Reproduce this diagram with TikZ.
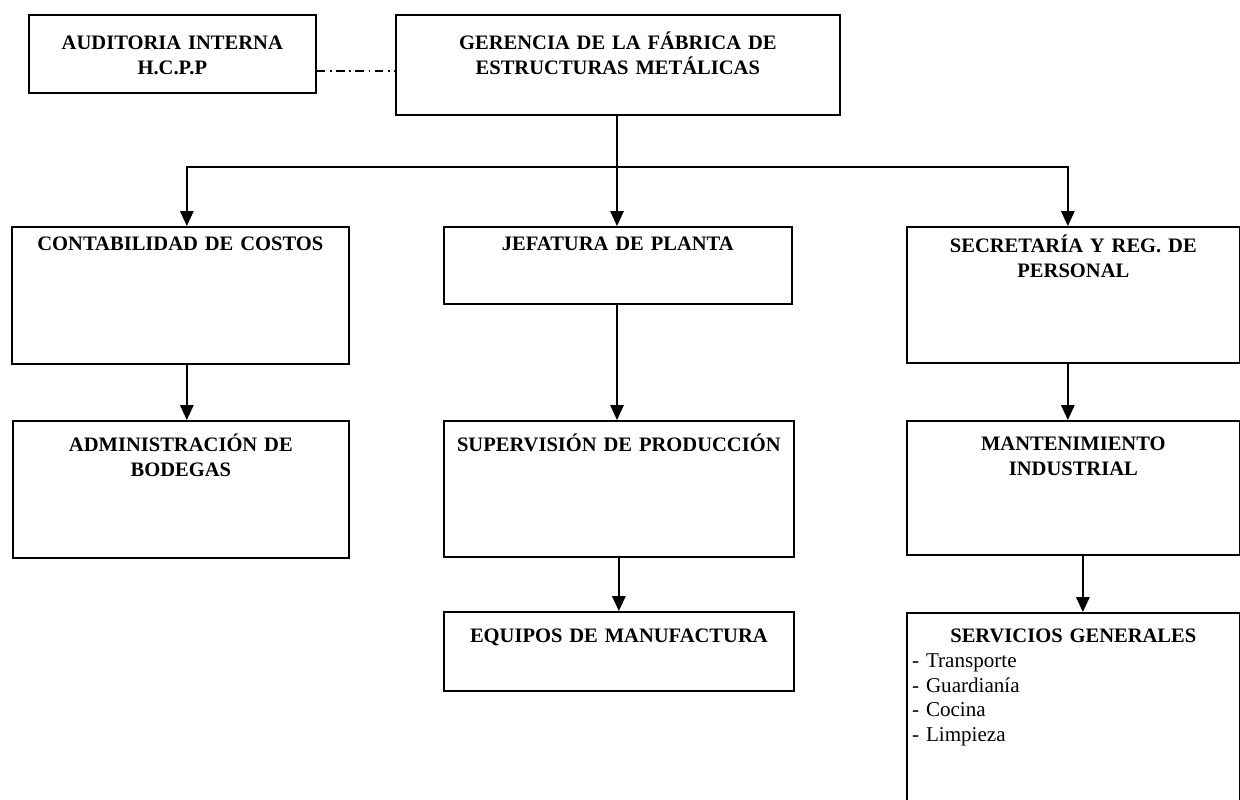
\documentclass[tikz,border=0pt]{standalone}
\usepackage{fontspec}
\setmainfont{Liberation Serif}
\usetikzlibrary{arrows.meta}

\tikzset{
	unit/.style={draw, line width=1pt, inner sep=0pt, anchor=north west, align=center, font=\bfseries\fontsize{11.7}{14}\selectfont},
	link/.style={line width=0.8pt},
	arrow/.style={line width=0.8pt, -{Triangle[length=0.3cm,width=0.27cm]}},
	dashdot/.style={line width=0.8pt, dash pattern=on 5pt off 2.5pt on 1pt off 2.5pt}
}

\begin{document}
\begin{tikzpicture}[x=0.02cm,y=-0.02cm]
\useasboundingbox (0,0) rectangle (1240,799);

\node (aud) at (28,14) [unit,text width=5.74cm,text height=0.70cm,text depth=0.86cm] {AUDITORIA INTERNA\\H.C.P.P};
\node (ger) at (395,14) [unit,text width=8.88cm,text height=0.70cm,text depth=1.30cm] {GERENCIA DE LA FÁBRICA DE\\ESTRUCTURAS METÁLICAS};

\node (cont) at (11,226) [unit,text width=6.74cm,text height=0.48cm,text depth=2.26cm] {CONTABILIDAD DE COSTOS};
\node (jef) at (443,226) [unit,text width=6.96cm,text height=0.48cm,text depth=1.06cm] {JEFATURA DE PLANTA};
\node (sec) at (906,226) [unit,text width=6.66cm,text height=0.52cm,text depth=2.20cm] {SECRETARÍA Y REG. DE\\PERSONAL};

\node (adm) at (12,420) [unit,text width=6.72cm,text height=0.62cm,text depth=2.12cm] {ADMINISTRACIÓN DE\\BODEGAS};
\node (sup) at (443,420) [unit,text width=7.00cm,text height=0.62cm,text depth=2.10cm] {SUPERVISIÓN DE PRODUCCIÓN};
\node (man) at (906,420) [unit,text width=6.66cm,text height=0.60cm,text depth=2.08cm] {MANTENIMIENTO\\INDUSTRIAL};

\node (equ) at (443,611) [unit,text width=7.00cm,text height=0.62cm,text depth=0.96cm] {EQUIPOS DE MANUFACTURA};
\node (ser) at (906,612) [unit,align=left,text width=6.66cm,text height=0.60cm,text depth=3.40cm] {\makebox[6.66cm]{SERVICIOS GENERALES}\\
	\mdseries\fontsize{12}{14}\selectfont\hspace*{3pt}- Transporte\\\hspace*{3pt}- Guardianía\\\hspace*{3pt}- Cocina\\\hspace*{3pt}- Limpieza};

% staff link
\draw [dashdot] ([yshift=-0.34cm]aud.east) -- ([yshift=-0.34cm]aud.east -| ger.west);

% first level
\coordinate (bus) at (617,167);
\draw [link] (ger.south -| bus) -- (bus);
\draw [arrow] (bus) -| ([xshift=0.13cm]cont.north);
\draw [arrow] (bus) -- (bus |- jef.north);
\draw [arrow] (bus) -| ([xshift=-0.11cm]sec.north);

% second and third level
\draw [arrow] ([xshift=0.13cm]cont.south) -- ([xshift=0.13cm]cont.south |- adm.north);
\draw [arrow] (jef.south -| bus) -- (bus |- sup.north);
\draw [arrow] (sup.south) -- (sup.south |- equ.north);
\draw [arrow] ([xshift=-0.11cm]sec.south) -- ([xshift=-0.11cm]sec.south |- man.north);
\draw [arrow] ([xshift=0.19cm]man.south) -- ([xshift=0.19cm]man.south |- ser.north);

\end{tikzpicture}
\end{document}
